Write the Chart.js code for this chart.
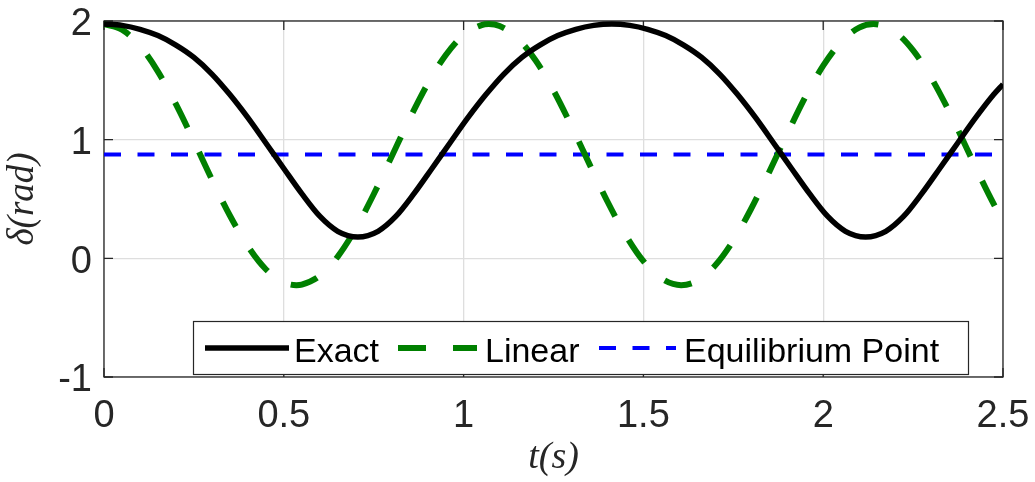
<!DOCTYPE html>
<html>
<head>
<meta charset="utf-8">
<script src="https://cdn.jsdelivr.net/npm/chart.js@4.4.1/dist/chart.umd.min.js"></script>
<style>
html,body{margin:0;padding:0;background:#ffffff;}
#wrap{width:1035px;height:482px;}
</style>
</head>
<body>
<div id="wrap"><canvas id="c" width="1035" height="482"></canvas></div>
<script>
// ---- data ----
const exactT = [0,0.05,0.1,0.15,0.2,0.25,0.3,0.35,0.4,0.45,0.5,0.55,0.6,0.65,0.706,
  0.762,0.812,0.862,0.912,0.962,1.012,1.062,1.112,1.162,1.212,1.262,1.312,1.362,1.412,
  1.462,1.512,1.562,1.612,1.662,1.712,1.762,1.812,1.862,1.912,1.962,2.012,2.062,2.118,
  2.174,2.224,2.274,2.324,2.374,2.424,2.474,2.5];
const exactV = [1.975,1.963,1.93,1.877,1.797,1.693,1.553,1.38,1.185,0.972,0.757,0.545,0.355,0.228,0.18,
  0.228,0.355,0.545,0.757,0.972,1.185,1.38,1.553,1.693,1.797,1.877,1.93,1.963,1.975,
  1.963,1.93,1.877,1.797,1.693,1.553,1.38,1.185,0.972,0.757,0.545,0.355,0.228,0.18,
  0.228,0.355,0.545,0.757,0.972,1.185,1.38,1.467];

const linearT = [0,0.05,0.1,0.15,0.2,0.25,0.3,0.35,0.4,0.45,0.5,0.535,0.55,0.6,0.65,0.7,0.75,0.8,0.85,0.9,0.95,
  1.0,1.05,1.07,1.1,1.15,1.2,1.25,1.3,1.35,1.4,1.45,1.5,1.55,1.605,1.65,1.7,1.75,1.8,1.85,1.9,1.95,
  2.0,2.05,2.1,2.14,2.2,2.25,2.3,2.35,2.4,2.45,2.5];
const linearV = [1.974,1.927,1.790,1.574,1.300,0.987,0.665,0.361,0.102,-0.092,-0.203,-0.226,-0.221,-0.147,0.015,0.250,0.540,0.858,1.177,1.470,1.712,
  1.883,1.966,1.974,1.958,1.855,1.669,1.415,1.114,0.794,0.479,0.199,-0.024,-0.170,-0.226,-0.188,-0.059,0.149,0.420,0.729,1.050,1.358,
  1.623,1.824,1.944,1.974,1.907,1.752,1.523,1.239,0.922,0.602,0.306];

const equilibriumT = [0, 2.5];
const equilibriumV = [0.874, 0.874];

const seriesNames = ['Exact', 'Linear', 'Equilibrium Point'];
const xTicks = [0, 0.5, 1, 1.5, 2, 2.5];
const xTickLabels = ['0', '0.5', '1', '1.5', '2', '2.5'];
const yTicks = [-1, 0, 1, 2];
const yTickLabels = ['-1', '0', '1', '2'];
const xTitle = 't(s)';
const yTitle = 'δ(rad)';

// ---- build ----
function pts(ts, vs){ return ts.map((t,i)=>({x:t, y:vs[i]})); }
function labelFor(v, vals, labels){
  for (let i=0;i<vals.length;i++){ if (Math.abs(vals[i]-v) < 1e-9) return labels[i]; }
  return '';
}
function noPad(s){ s.paddingTop = 0; s.paddingBottom = 0; s.paddingLeft = 0; s.paddingRight = 0; }

const AXIS_COLOR = '#262626';
const SANS = '"Liberation Sans", Arial, Helvetica, sans-serif';
const SERIF = '"Liberation Serif", "DejaVu Serif", "Times New Roman", serif';

const frame = {
  id: 'frame',
  beforeDatasetsDraw(chart){
    const {ctx, chartArea:a, scales:{x, y}} = chart;
    ctx.save();
    ctx.strokeStyle = AXIS_COLOR;
    ctx.lineWidth = 1.3;
    ctx.strokeRect(a.left, a.top, a.right - a.left, a.bottom - a.top);
    const L = 9;
    ctx.beginPath();
    xTicks.forEach(v => {
      const p = x.getPixelForValue(v);
      ctx.moveTo(p, a.bottom); ctx.lineTo(p, a.bottom - L);
      ctx.moveTo(p, a.top); ctx.lineTo(p, a.top + L);
    });
    yTicks.forEach(v => {
      const p = y.getPixelForValue(v);
      ctx.moveTo(a.left, p); ctx.lineTo(a.left + L, p);
      ctx.moveTo(a.right, p); ctx.lineTo(a.right - L, p);
    });
    ctx.stroke();
    ctx.restore();
  }
};

const boxLegend = {
  id: 'boxLegend',
  afterDraw(chart){
    const {ctx} = chart;
    const ds = chart.data.datasets;
    ctx.save();
    const bx = 193.5, by = 321.5, bw = 775, bh = 53;
    ctx.fillStyle = '#ffffff';
    ctx.fillRect(bx, by, bw, bh);
    ctx.strokeStyle = AXIS_COLOR;
    ctx.lineWidth = 1.2;
    ctx.strokeRect(bx, by, bw, bh);
    const ly = 348;
    const items = [
      {x0: 205, x1: 289, tx: 294},
      {x0: 398, x1: 477, tx: 485},
      {x0: 599, x1: 676, tx: 684}
    ];
    ctx.font = '34px ' + SANS;
    ctx.textBaseline = 'alphabetic';
    ctx.textAlign = 'left';
    items.forEach((it, i) => {
      const d = ds[i];
      ctx.beginPath();
      ctx.setLineDash(d.borderDash || []);
      ctx.lineDashOffset = 0;
      ctx.strokeStyle = d.borderColor;
      ctx.lineWidth = d.borderWidth;
      ctx.lineCap = 'butt';
      ctx.moveTo(it.x0, ly);
      ctx.lineTo(it.x1, ly);
      ctx.stroke();
      ctx.setLineDash([]);
      ctx.fillStyle = '#000000';
      ctx.fillText(d.label, it.tx, 361.5);
    });
    ctx.restore();
  }
};

new Chart(document.getElementById('c'), {
  type: 'line',
  data: {
    datasets: [
      {label: seriesNames[0], data: pts(exactT, exactV), borderColor: '#000000', borderWidth: 5.5,
       pointRadius: 0, cubicInterpolationMode: 'monotone', fill: false},
      {label: seriesNames[1], data: pts(linearT, linearV), borderColor: '#008000', borderWidth: 6,
       borderDash: [28, 27], pointRadius: 0, cubicInterpolationMode: 'monotone', fill: false},
      {label: seriesNames[2], data: pts(equilibriumT, equilibriumV), borderColor: '#0000ff', borderWidth: 4,
       borderDash: [17, 16.5], pointRadius: 0, tension: 0, fill: false}
    ]
  },
  options: {
    responsive: false,
    animation: false,
    events: [],
    layout: {padding: {top: 21, right: 32, bottom: 0, left: 0}},
    plugins: {legend: {display: false}, tooltip: {enabled: false}},
    scales: {
      x: {
        type: 'linear', min: 0, max: 2.5,
        afterFit: s => { s.height = 105; noPad(s); },
        afterBuildTicks: s => { s.ticks = xTicks.map(v => ({value: v})); },
        grid: {color: '#dedede', lineWidth: 1.3, drawTicks: false},
        border: {display: false},
        ticks: {
          autoSkip: false, maxRotation: 0, minRotation: 0, padding: 21,
          color: AXIS_COLOR, font: {family: SANS, size: 38, lineHeight: 1},
          callback: v => labelFor(v, xTicks, xTickLabels)
        },
        title: {display: true, text: xTitle, color: AXIS_COLOR,
          font: {family: SERIF, size: 38, style: 'italic', lineHeight: 1.2},
          padding: {top: 0, bottom: 1}}
      },
      y: {
        type: 'linear', min: -1, max: 2,
        afterFit: s => { s.width = 104; noPad(s); },
        afterBuildTicks: s => { s.ticks = yTicks.map(v => ({value: v})); },
        grid: {color: '#dedede', lineWidth: 1.3, drawTicks: false},
        border: {display: false},
        ticks: {
          padding: 12, labelOffset: 4,
          color: AXIS_COLOR, font: {family: SANS, size: 38, lineHeight: 1},
          callback: v => labelFor(v, yTicks, yTickLabels)
        },
        title: {display: true, text: yTitle, color: AXIS_COLOR,
          font: {family: SERIF, size: 37, style: 'italic', lineHeight: 1.2},
          padding: {top: 1, bottom: 0}}
      }
    }
  },
  plugins: [frame, boxLegend]
});
</script>
</body>
</html>
